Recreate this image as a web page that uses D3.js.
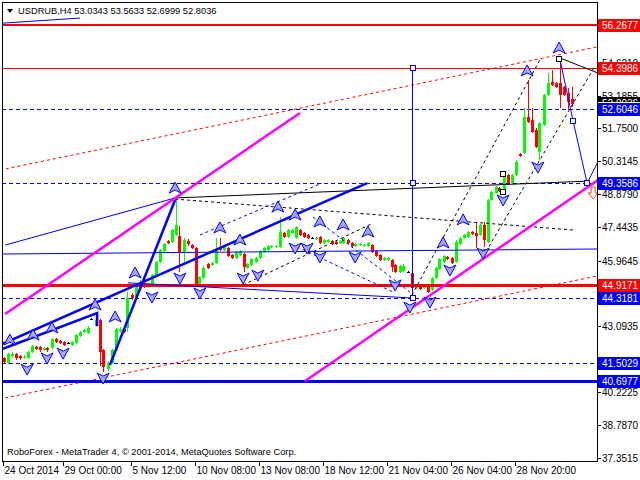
<!DOCTYPE html>
<html><head><meta charset="utf-8">
<script src="https://cdn.jsdelivr.net/npm/d3@7/dist/d3.min.js"></script>
<style>body{margin:0;background:#fff}svg{display:block}</style>
</head><body><svg id="c" width="640" height="480"></svg>
<script>
// ---- DATA ----
const symbolTitle = "USDRUB,H4";
const lastQuote = [53.0343, 53.5633, 52.6999, 52.8036];
const opens = [41.72,41.50,41.80,41.89,41.80,41.72,41.72,41.98,42.20,42.20,42.07,42.15,42.15,42.55,42.46,42.41,42.37,42.28,42.37,42.68,42.85,42.81,43.42,43.11,43.38,42.07,41.23,41.50,42.07,42.89,42.98,43.03,44.47,44.38,44.82,44.99,44.82,44.91,45.34,45.91,46.39,46.83,46.78,47.09,47.05,46.35,46.83,46.65,46.52,44.91,45.21,45.82,45.78,45.87,46.52,46.44,46.52,46.22,46.09,46.22,46.26,45.65,45.78,45.91,46.09,46.35,46.44,46.57,46.57,46.57,47.18,47.00,47.18,46.96,47.31,47.18,47.09,46.96,46.92,47.00,46.74,46.78,46.83,46.78,46.74,46.74,46.87,46.74,46.61,46.65,46.61,46.61,46.65,46.39,46.22,46.00,46.00,46.00,45.78,45.47,45.52,45.47,45.43,44.77,44.91,44.77,44.91,44.69,45.21,45.60,45.91,46.13,46.09,45.91,46.70,46.96,47.00,47.22,47.18,47.09,47.53,46.78,48.62,48.93,49.14,49.06,49.71,49.36,49.71,50.63,50.67,52.25,52.12,51.68,50.72,51.90,53.21,53.78,53.73,53.73,53.56,53.30,53.0343];
const highs = [41.76,41.93,41.98,41.93,41.85,41.85,42.02,42.28,42.24,42.24,42.20,42.20,42.59,42.59,42.50,42.46,42.41,42.46,42.76,42.89,42.98,43.11,43.46,43.42,43.42,42.11,41.58,42.11,43.03,43.07,43.07,44.60,44.56,44.99,45.12,45.04,44.99,45.39,45.95,46.48,46.74,46.87,47.35,48.71,47.48,46.96,46.92,46.70,46.57,45.30,45.74,45.87,45.91,46.96,46.96,46.61,46.57,46.26,46.39,46.44,46.30,45.87,46.09,46.13,46.44,46.57,46.65,46.65,46.65,47.88,47.22,47.35,47.35,47.48,47.35,47.22,47.13,47.00,47.00,47.05,46.92,46.92,46.87,46.83,46.87,47.00,46.92,46.78,46.74,46.74,46.70,46.78,46.70,46.44,46.26,46.13,46.13,46.04,45.82,45.78,45.82,45.52,45.47,44.95,44.95,44.91,44.95,45.26,45.69,46.09,46.22,46.17,46.13,46.87,47.00,47.13,47.27,47.27,47.66,47.57,47.66,48.66,49.01,49.23,49.19,49.84,49.76,49.76,50.37,50.67,52.64,53.86,52.64,51.77,52.03,53.25,54.17,54.30,53.78,54.87,53.60,53.51,53.5633];
const lows = [41.50,41.45,41.72,41.63,41.63,41.67,41.67,41.93,42.07,41.98,42.02,41.98,42.11,42.37,42.33,42.24,42.33,42.24,42.33,42.63,42.81,42.76,43.38,43.07,41.37,41.10,41.15,41.45,42.02,42.81,42.81,42.85,44.25,44.34,44.77,44.77,44.77,44.86,45.30,45.87,46.35,46.70,46.74,47.05,45.47,45.91,46.61,46.48,44.86,44.82,45.17,45.60,45.74,45.82,46.39,46.39,46.13,46.04,46.04,46.17,45.47,45.60,45.74,45.87,46.04,46.30,46.39,46.52,46.52,46.52,46.96,46.96,47.13,46.92,47.05,46.96,46.92,46.92,46.87,46.70,46.70,46.74,46.65,46.65,46.70,46.70,46.70,46.57,46.57,46.61,46.57,46.57,46.30,46.13,45.95,45.95,45.95,45.47,45.43,45.43,45.47,45.43,44.38,44.73,44.69,44.73,44.56,44.64,45.17,45.56,45.87,46.00,45.82,45.87,46.65,46.92,46.96,47.09,46.52,47.05,46.57,46.74,48.58,48.88,48.97,48.88,49.32,49.32,49.67,50.50,50.63,51.98,51.55,50.89,50.37,51.85,53.16,53.60,53.51,52.64,53.16,52.55,52.6999];
const closes = [41.54,41.89,41.89,41.72,41.72,41.76,41.98,42.24,42.11,42.07,42.15,42.07,42.55,42.41,42.37,42.28,42.37,42.41,42.72,42.85,42.94,43.03,43.42,43.38,41.98,41.32,41.50,42.07,42.98,42.98,42.85,44.34,44.34,44.91,44.99,44.82,44.95,45.34,45.91,46.44,46.70,46.74,47.31,47.53,46.35,46.87,46.70,46.52,44.91,45.26,45.65,45.65,45.87,46.44,46.44,46.57,46.17,46.09,46.35,46.39,45.69,45.82,46.04,46.09,46.39,46.52,46.61,46.61,46.61,47.22,47.00,47.31,47.31,47.44,47.09,47.00,46.96,46.96,46.96,46.74,46.87,46.87,46.70,46.70,46.83,46.96,46.74,46.61,46.70,46.70,46.65,46.74,46.35,46.17,46.00,46.09,46.09,45.69,45.47,45.74,45.74,45.47,44.77,44.91,44.73,44.86,44.60,45.21,45.65,46.04,46.17,46.04,45.87,46.78,46.96,47.09,47.22,47.13,47.05,47.53,46.87,48.62,48.97,49.19,49.01,49.80,49.36,49.71,50.28,50.54,52.25,52.03,51.59,50.94,51.98,53.21,53.73,53.65,53.56,53.21,53.21,52.90,52.8036];

const dateLabels = ["24 Oct 2014","29 Oct 00:00","5 Nov 12:00","10 Nov 08:00","13 Nov 08:00","18 Nov 12:00","21 Nov 04:00","26 Nov 04:00","28 Nov 20:00"];
const dateLabelBars = [0,15,32,48,64,80,96,112,128];
const priceTicks = [54.6210,53.1855,51.7500,50.3145,48.8790,47.4435,45.9645,43.0935,40.2225,38.7870,37.3515];

// horizontal levels
const redLevels = [56.2677, 54.3986, 44.9171];
const blueDashLevels = [52.6046, 49.3586, 44.3181, 41.5029];
const blueSolidLevels = [40.6977];
const currentPrice = 52.8036;

// drawn objects in (bar index, price)
const magentaLines = [[[0.4,43.64],[74.1,52.42]], [[75.4,40.71],[148.6,49.49]]];
const redDashLines = [[[-0.9,49.93],[148.4,55.31]], [[0.4,39.97],[148.4,45.30]]];
const blueThinLines = [[[0.4,46.65],[42.9,48.71]], [[-0.9,46.26],[148.4,46.48]], [[31.1,45.00],[102.1,44.34]], [[-0.1,56.35],[19.1,56.57]], [[139.1,54.78],[142.4,52.07],[145.9,49.36],[148.6,50.28]]];
const blueDashLines = [[[49.1,47.09],[79.6,49.36]], [[77.4,47.88],[101.6,44.60]], [[73.4,46.57],[97.4,44.60]]];
const blueThickLines = [[[-0.9,42.28],[90.9,49.36]], [[-0.9,42.07],[23.4,43.68],[23.4,43.11]], [[26.6,41.41],[42.9,48.62]]];
const blackLines = [[[42.9,48.71],[146.6,49.45]], [[139.1,54.83],[148.6,54.17]]];
const blackDashLines = [[[42.9,48.66],[142.4,47.31]], [[59.9,44.91],[92.4,47.61]], [[102.1,44.47],[134.1,54.74]], [[119.1,45.91],[147.9,54.48]]];
const verticalLine = {bar:102.1, from:54.3986, to:44.3181, marks:[54.3986,49.3586,44.3181]};
const blueMarks = [[142.4,52.07],[145.9,49.36]];
const blackMarks = [[124.9,49.76],[124.9,48.97],[138.9,54.78]];
const fractalUp = [[1.6,42.50],[7.4,42.72],[12.1,43.03],[22.9,44.03],[27.9,43.51],[32.9,45.43],[42.9,49.14],[54.1,47.40],[59.1,46.87],[68.6,48.31],[72.9,47.96],[79.1,47.66],[84.9,47.53],[91.1,47.22],[109.9,46.74],[114.9,47.75],[130.9,54.26],[138.9,55.26]];
const fractalDown = [[5.9,41.23],[10.9,41.72],[14.9,41.93],[24.9,40.84],[37.1,44.38],[44.1,45.21],[49.1,44.56],[59.9,45.21],[63.6,45.34],[72.9,46.52],[75.9,46.52],[79.1,46.13],[87.9,46.13],[97.9,44.91],[101.6,43.94],[106.6,44.16],[111.6,45.56],[119.9,46.30],[124.9,48.62],[133.6,50.06]];
const sellArrow = [147.4, 48.93];

// ---- DRAW ----
const svg = d3.select("#c");
const W = 640, H = 480, L = 2, T = 2, R = 597, B = 461;
const x = d3.scaleLinear().domain([0,142]).range([3.5,571.5]);
const y = d3.scaleLinear().domain([56.2677,37.3515]).range([25,457.9]);
const font = "Liberation Sans, Arial, sans-serif";

svg.append("rect").attr("width",W).attr("height",H).attr("fill","#fff");
const defs = svg.append("defs");
defs.append("clipPath").attr("id","pc").append("rect")
  .attr("x",L).attr("y",T).attr("width",R-L).attr("height",B-T);
const g = svg.append("g").attr("clip-path","url(#pc)");

const line = d3.line().x(d=>x(d[0])).y(d=>y(d[1]));

function hline(v, color, w, dash){
  const yy = Math.round(y(v)) + (w%2 ? 0.5 : 0);
  g.append("line").attr("x1",L).attr("x2",R).attr("y1",yy).attr("y2",yy)
    .attr("stroke",color).attr("stroke-width",w).attr("stroke-dasharray",dash||null);
}
const draw = (arr,color,w,dash)=>arr.forEach(d=>g.append("path").attr("d",line(d)).attr("fill","none")
  .attr("stroke",color).attr("stroke-width",w).attr("stroke-dasharray",dash||null));

blueDashLevels.forEach(v=>hline(v,"#0000ff",1,"4,3"));
draw(redDashLines,"#ff0000",1,"3,3");

// candles
const idx = d3.range(opens.length);
const col = i => closes[i]>opens[i] ? "#00ff00" : (closes[i]<opens[i] ? "#ff0000" : "#000000");
const cg = g.append("g").attr("shape-rendering","crispEdges");
idx.forEach(i=>{
  const cx = Math.round(x(i));
  cg.append("line").attr("x1",cx+0.5).attr("x2",cx+0.5).attr("y1",y(highs[i])).attr("y2",y(lows[i])).attr("stroke",col(i));
  const y0 = Math.min(y(opens[i]),y(closes[i])), y1 = Math.max(y(opens[i]),y(closes[i]));
  cg.append("rect").attr("x",cx-1).attr("y",Math.round(y0)).attr("width",3).attr("height",Math.max(1,Math.round(y1-y0))).attr("fill",col(i));
});

hline(redLevels[0],"#ff0000",2);
hline(redLevels[1],"#ff0000",1);
hline(redLevels[2],"#ff0000",3);
blueSolidLevels.forEach(v=>hline(v,"#0000ff",3));

draw(blackDashLines,"#000000",1,"3,3");
draw(blueDashLines,"#0000ff",1,"3,3");
draw(blackLines,"#000000",1);
draw(blueThinLines,"#0000ff",1);
draw(blueThickLines,"#0000ff",2.5);
draw(magentaLines,"#ff00ff",2.5);

const vx = Math.round(x(verticalLine.bar))+0.5;
g.append("line").attr("x1",vx).attr("x2",vx).attr("y1",y(verticalLine.from)).attr("y2",y(verticalLine.to)).attr("stroke","#0000ff");
const mark = (px,py,color)=>g.append("rect").attr("x",Math.round(px)-2.5).attr("y",Math.round(py)-2.5).attr("width",5).attr("height",5)
  .attr("fill","#fff").attr("stroke",color);
verticalLine.marks.forEach(v=>mark(vx,y(v),"#0000ff"));
blueMarks.forEach(d=>mark(x(d[0]),y(d[1]),"#0000ff"));
blackMarks.forEach(d=>mark(x(d[0]),y(d[1]),"#000000"));

const upPath = "M0,-6 L6,5 L0,2 L-6,5 Z";
const dnPath = "M0,6 L6,-5 L0,-2 L-6,-5 Z";
fractalUp.forEach(d=>g.append("path").attr("d",upPath).attr("transform",`translate(${x(d[0])},${y(d[1])})`)
  .attr("fill","#a8a8ff").attr("stroke","#0000ff").attr("stroke-width",1));
fractalDown.forEach(d=>g.append("path").attr("d",dnPath).attr("transform",`translate(${x(d[0])},${y(d[1])})`)
  .attr("fill","#a8a8ff").attr("stroke","#0000ff").attr("stroke-width",1));
g.append("path").attr("d","M-2,-6 L2,-6 L2,0 L5,0 L0,6 L-5,0 L-2,0 Z")
  .attr("transform",`translate(${x(sellArrow[0])},${y(sellArrow[1])})`)
  .attr("fill","#fff").attr("stroke","#ff4000").attr("stroke-width",1);

svg.append("rect").attr("x",L+0.5).attr("y",T+0.5).attr("width",R-L).attr("height",B-T)
  .attr("fill","none").attr("stroke","#000").attr("shape-rendering","crispEdges");

// price axis
const ax = svg.append("g");
priceTicks.forEach(v=>{
  const yy = Math.round(y(v))+0.5;
  ax.append("line").attr("x1",R).attr("x2",R+4).attr("y1",yy).attr("y2",yy).attr("stroke","#000");
  ax.append("text").attr("x",602).attr("y",yy).attr("dy","0.35em").attr("font-family",font).attr("font-size",10)
    .attr("fill","#000").text(v.toFixed(4));
});
function tag(v,color){
  const yy = Math.round(y(v));
  ax.append("rect").attr("x",598).attr("y",yy-6).attr("width",42).attr("height",13).attr("fill",color);
  ax.append("text").attr("x",602).attr("y",yy+0.5).attr("dy","0.35em").attr("font-family",font).attr("font-size",10)
    .attr("fill","#fff").text(v.toFixed(4));
}
// current price tag: only its top part shows above the level tag
const cy = Math.round(y(currentPrice));
defs.append("clipPath").attr("id","cp").append("rect").attr("x",598).attr("y",cy-7).attr("width",42).attr("height",5);
const cpg = ax.append("g").attr("clip-path","url(#cp)");
cpg.append("rect").attr("x",598).attr("y",cy-7).attr("width",42).attr("height",13).attr("fill","#000");
cpg.append("text").attr("x",602).attr("y",cy-0.5).attr("dy","0.35em").attr("font-family",font).attr("font-size",10)
  .attr("fill","#fff").text(currentPrice.toFixed(4));
redLevels.forEach(v=>tag(v,"#ff0000"));
blueDashLevels.forEach(v=>tag(v,"#0000ff"));
blueSolidLevels.forEach(v=>tag(v,"#0000ff"));

// time axis
dateLabelBars.forEach((b,i)=>{
  const xx = Math.round(x(b))-0.5;
  svg.append("line").attr("x1",xx).attr("x2",xx).attr("y1",B).attr("y2",B+5).attr("stroke","#000");
  svg.append("text").attr("x",xx+1).attr("y",474).attr("font-family",font).attr("font-size",10).attr("fill","#000").text(dateLabels[i]);
});

// header and footer
svg.append("path").attr("d","M7,9 L13,9 L10,13 Z").attr("fill","#000");
svg.append("text").attr("x",18).attr("y",14).attr("font-family",font).attr("font-size",9.3).attr("fill","#000")
  .text(symbolTitle + "  " + lastQuote.map(v=>v.toFixed(4)).join(" "));
svg.append("text").attr("x",7).attr("y",455).attr("font-family",font).attr("font-size",9.3).attr("fill","#000")
  .text("RoboForex - MetaTrader 4, © 2001-2014, MetaQuotes Software Corp.");
</script></body></html>
